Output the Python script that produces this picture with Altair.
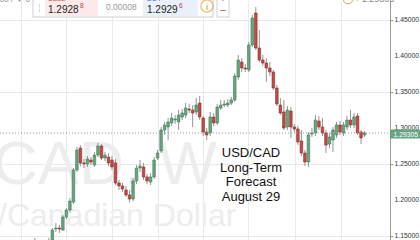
import altair as alt
import pandas as pd

# Weekly USD/CAD candles (price values)
opens = [1.1300, 1.1350, 1.1300, 1.1360, 1.1390, 1.1440, 1.1593, 1.1607, 1.1579, 1.1760,
         1.1858, 1.1969, 1.2415, 1.2721, 1.2513, 1.2499, 1.2554, 1.2485, 1.2624, 1.2749,
         1.2582, 1.2596, 1.2554, 1.2513, 1.2234, 1.2192, 1.2136, 1.2067, 1.2011, 1.2262,
         1.2443, 1.2457, 1.2318, 1.2248, 1.2318, 1.2582, 1.2680, 1.2972, 1.3014, 1.3070,
         1.3111, 1.3084, 1.3153, 1.3181, 1.3265, 1.3251, 1.3223, 1.3348, 1.3139, 1.2944,
         1.2930, 1.3153, 1.3070, 1.3279, 1.3320, 1.3320, 1.3348, 1.3390, 1.3710, 1.3919,
         1.3836, 1.3808, 1.4156, 1.4602, 1.4114, 1.3947, 1.3905, 1.3836, 1.3780, 1.3557,
         1.3320, 1.3223, 1.3014, 1.3237, 1.3014, 1.2986, 1.2819, 1.2652, 1.2526, 1.2916,
         1.2930, 1.3097, 1.3014, 1.2930, 1.2777, 1.2833, 1.2903, 1.3042, 1.2930, 1.3014,
         1.3111, 1.3042, 1.3167, 1.2944, 1.2903]
closes = [1.1350, 1.1300, 1.1360, 1.1390, 1.1420, 1.1579, 1.1607, 1.1593, 1.1760, 1.1858,
          1.1983, 1.2415, 1.2694, 1.2513, 1.2499, 1.2568, 1.2526, 1.2624, 1.2749, 1.2582,
          1.2624, 1.2513, 1.2457, 1.2234, 1.2192, 1.2150, 1.2067, 1.2011, 1.2262, 1.2443,
          1.2471, 1.2318, 1.2262, 1.2318, 1.2554, 1.2652, 1.2972, 1.3042, 1.3084, 1.3139,
          1.3125, 1.3181, 1.3209, 1.3279, 1.3251, 1.3209, 1.3320, 1.3153, 1.2944, 1.2903,
          1.3153, 1.3070, 1.3292, 1.3320, 1.3334, 1.3348, 1.3390, 1.3724, 1.3947, 1.3836,
          1.3822, 1.4156, 1.4532, 1.4114, 1.3947, 1.3905, 1.3836, 1.3780, 1.3557, 1.3334,
          1.3209, 1.3000, 1.3251, 1.3014, 1.2986, 1.2805, 1.2652, 1.2526, 1.2903, 1.2930,
          1.3111, 1.3014, 1.2930, 1.2763, 1.2875, 1.2972, 1.3042, 1.2944, 1.3042, 1.3111,
          1.3042, 1.3153, 1.2930, 1.2861, 1.2930]
highs = [1.1468, 1.1400, 1.1420, 1.1430, 1.1468, 1.1607, 1.1677, 1.1649, 1.1788, 1.1886,
         1.2025, 1.2443, 1.2735, 1.2763, 1.2568, 1.2610, 1.2596, 1.2666, 1.2791, 1.2777,
         1.2666, 1.2652, 1.2610, 1.2568, 1.2276, 1.2234, 1.2192, 1.2136, 1.2304, 1.2485,
         1.2554, 1.2513, 1.2359, 1.2373, 1.2596, 1.2694, 1.3014, 1.3084, 1.3139, 1.3209,
         1.3181, 1.3251, 1.3265, 1.3348, 1.3334, 1.3320, 1.3418, 1.3446, 1.3167, 1.3000,
         1.3223, 1.3209, 1.3334, 1.3390, 1.3390, 1.3404, 1.3432, 1.3766, 1.4017, 1.3975,
         1.3891, 1.4198, 1.4574, 1.4685, 1.4365, 1.4017, 1.3975, 1.3919, 1.3808, 1.3599,
         1.3418, 1.3390, 1.3306, 1.3292, 1.3056, 1.3028, 1.2972, 1.2694, 1.2944, 1.3000,
         1.3181, 1.3167, 1.3139, 1.2972, 1.2930, 1.3014, 1.3084, 1.3097, 1.3084, 1.3167,
         1.3251, 1.3209, 1.3209, 1.2972, 1.2958]
lows = [1.1240, 1.1250, 1.1260, 1.1300, 1.1330, 1.1412, 1.1552, 1.1538, 1.1565, 1.1733,
        1.1830, 1.1942, 1.2387, 1.2471, 1.2443, 1.2457, 1.2485, 1.2457, 1.2596, 1.2554,
        1.2540, 1.2471, 1.2415, 1.2206, 1.2136, 1.2109, 1.2039, 1.1969, 1.1983, 1.2220,
        1.2387, 1.2276, 1.2220, 1.2206, 1.2290, 1.2554, 1.2652, 1.2903, 1.2833, 1.3028,
        1.3056, 1.2972, 1.3111, 1.3139, 1.3209, 1.3014, 1.3181, 1.3111, 1.2889, 1.2833,
        1.2889, 1.3028, 1.3042, 1.3251, 1.3292, 1.3292, 1.3320, 1.3362, 1.3669, 1.3780,
        1.3780, 1.3780, 1.4128, 1.4086, 1.3919, 1.3864, 1.3641, 1.3724, 1.3529, 1.3306,
        1.3181, 1.2972, 1.2972, 1.2861, 1.2944, 1.2763, 1.2610, 1.2471, 1.2457, 1.2875,
        1.2889, 1.2972, 1.2889, 1.2652, 1.2721, 1.2666, 1.2861, 1.2903, 1.2889, 1.2972,
        1.3000, 1.3000, 1.2903, 1.2777, 1.2875]

price_ticks = [1.15, 1.20, 1.25, 1.30, 1.35, 1.40, 1.45]
price_tick_labels = ["1.15000", "1.20000", "1.25000", "1.30000", "1.35000", "1.40000", "1.45000"]
quarter_lines = [-3.8, 9.0, 22.1, 35.1, 47.9, 60.9, 74.3, 87.3]
last_price = 1.29305
last_label = "1.29305"
title_lines = "USD/CAD\nLong-Term\nForecast\nAugust 29"
watermark_top = "CAD, W"
watermark_bottom = "/Canadian Dollar"

GREEN, GREEN_EDGE = "#6aa57f", "#3d7a54"
RED, RED_EDGE = "#c24b47", "#8a2b28"

df = pd.DataFrame({"i": list(range(len(opens))), "open": opens, "close": closes,
                   "high": highs, "low": lows})
df["dir"] = ["up" if c >= o else "down" for o, c in zip(opens, closes)]
ticks_df = pd.DataFrame({"p": price_ticks, "lab": price_tick_labels})

xs = alt.Scale(domain=[-8.5, 99.83], nice=False, zero=False)
ys = alt.Scale(domain=[1.1440, 1.4783], nice=False, zero=False)

one = pd.DataFrame({"a": [0]})


def txt(t, x, y, size, color, align="left", weight="normal", baseline="alphabetic", **kw):
    return alt.Chart(one).mark_text(text=t, align=align, baseline=baseline, fontSize=size,
                                    color=color, fontWeight=weight, font="Liberation Sans",
                                    **kw).encode(x=alt.value(x), y=alt.value(y))


def box(x1, x2, y1, y2, fill, stroke=None, sw=0.0, **kw):
    args = dict(fill=fill, strokeWidth=sw)
    if stroke:
        args["stroke"] = stroke
    args.update(kw)
    return alt.Chart(one).mark_rect(**args).encode(
        x=alt.value(x1), x2=alt.value(x2), y=alt.value(y1), y2=alt.value(y2))


# axes + grid carrier
axes = alt.Chart(df).mark_point(opacity=0).encode(
    x=alt.X("i:Q", scale=xs, axis=alt.Axis(values=quarter_lines, labels=False, ticks=False,
                                           domain=False, grid=True, gridColor="#e9e9e9",
                                           title=None)),
    y=alt.Y("close:Q", scale=ys, axis=alt.Axis(orient="right", values=price_ticks,
                                               labels=False, grid=True, gridColor="#e9e9e9",
                                               title=None, tickSize=3, tickColor="#999",
                                               domainColor="#999")),
)

tick_labels = alt.Chart(ticks_df).mark_text(
    align="left", baseline="middle", fontSize=6.8, color="#333", font="Liberation Sans"
).encode(y=alt.Y("p:Q", scale=ys), x=alt.value(394.5), text="lab:N")

wm1 = txt(watermark_top, -7, 184, 62, "#ededed")
wm2 = txt(watermark_bottom, -2, 226, 32, "#ededed")

wicks = alt.Chart(df).mark_rule(strokeWidth=0.8, color="#7a7a7a", clip=True).encode(
    x="i:Q", y="low:Q", y2="high:Q")

bodies = alt.Chart(df).mark_bar(size=2.6, strokeWidth=0.6, clip=True).encode(
    x="i:Q", y="open:Q", y2="close:Q",
    color=alt.Color("dir:N", scale=alt.Scale(domain=["up", "down"], range=[GREEN, RED]),
                    legend=None),
    stroke=alt.Stroke("dir:N", scale=alt.Scale(domain=["up", "down"],
                                               range=[GREEN_EDGE, RED_EDGE]), legend=None),
)

price_line = alt.Chart(pd.DataFrame({"p": [last_price]})).mark_rule(
    color="#9a9a9a", strokeDash=[1, 2], strokeWidth=1).encode(
    y="p:Q", x=alt.value(0), x2=alt.value(390))

price_box = box(390, 420, 129.5, 138.5, "#6aa383")
price_txt = txt(last_label, 393.5, 136.5, 6.8, "white")

title = alt.Chart(one).mark_text(text=title_lines, lineBreak="\n", lineHeight=14.5,
                                 align="center", baseline="alphabetic", fontSize=13,
                                 color="#111", font="Liberation Sans").encode(
    x=alt.value(251), y=alt.value(157))

# trading widget overlay at top
panel = box(33, 213, -3, 17, "white", "#cfcfcf", 1)
dots = txt("⁞", 38, 12, 10, "#bbbbbb")
sell_cell = box(45, 98, -3, 16, "#fdeaea")
sell_lbl = txt("SELL", 48, 1, 7, "#d05050")
sell_val = txt("1.2928", 48, 13, 10, "#222")
sell_sup = txt("8", 80, 8, 6.5, "#c04040")
spread = txt("0.00008", 106, 10, 8.5, "#9a9a9a")
buy_cell = box(143, 198, -3, 16, "#e9f0fa")
buy_lbl = txt("BUY", 147, 1, 7, "#4a78c0")
buy_val = txt("1.2929", 147, 13, 10, "#222")
buy_sup = txt("6", 179, 8, 6.5, "#c04040")
info = alt.Chart(one).mark_point(shape="circle", size=150, filled=False, color="#e8a040",
                                 strokeWidth=1.3).encode(x=alt.value(207), y=alt.value(6))
info_i = txt("i", 207, 10, 9, "#c08a40", align="center")
zoom_box = box(217, 229, -4, 17, "white", "#d0d0d0", 1)
zoom_minus = txt("−", 223, 14, 11, "#c04a40", align="center")
zoom_plus = txt("+", 223, 2, 11, "#c04a40", align="center")
tr_circle = alt.Chart(one).mark_point(shape="circle", size=90, filled=False, color="#e8a040",
                                      strokeWidth=1.3).encode(x=alt.value(348), y=alt.value(-1))
tr_txt = txt("▪ 1.29305", 356, 2, 9, "#888")
tl_txt = txt("0.00000 / ▼ 0", 30, 2, 8, "#888", align="right")

chart = alt.layer(
    axes, tick_labels, wm1, wm2, wicks, bodies, price_line, price_box, price_txt, title,
    panel, sell_cell, buy_cell, dots, sell_lbl, sell_val, sell_sup, spread, buy_lbl,
    buy_val, buy_sup, info, info_i, zoom_box, zoom_minus, zoom_plus, tr_circle, tr_txt, tl_txt,
).properties(
    width=390, height=240,
    padding={"left": 0, "top": 0, "right": 30, "bottom": 0},
    autosize=alt.AutoSizeParams(type="none"),
    background="white",
).configure_view(stroke=None)

chart.save("out.html", embed_options={"renderer": "svg", "actions": False})
